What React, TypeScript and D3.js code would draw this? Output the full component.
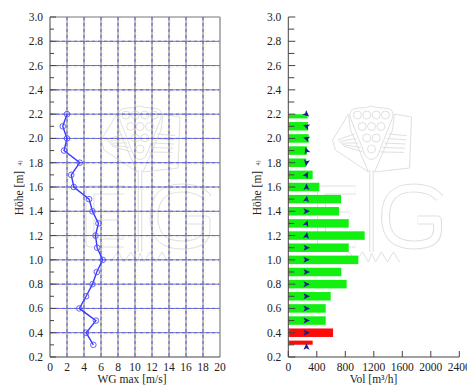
import React from "react";
import * as d3 from "d3";

const heights = [2.2, 2.1, 2.0, 1.9, 1.8, 1.7, 1.6, 1.5, 1.4, 1.3, 1.2, 1.1, 1.0, 0.9, 0.8, 0.7, 0.6, 0.5, 0.4, 0.3];
const wgMax = [2.0, 1.5, 2.0, 1.65, 3.5, 2.5, 2.8, 4.6, 5.0, 5.7, 5.35, 5.55, 6.2, 5.5, 5.0, 4.25, 3.45, 5.4, 4.25, 5.1];
const vol = [272, 277, 286, 262, 253, 342, 436, 740, 712, 848, 1072, 848, 983, 744, 819, 595, 525, 525, 628, 342];
const volAlarm = [false, false, false, false, false, false, false, false, false, false, false, false, false, false, false, false, false, false, true, true];
const arrowDir = [40, 200, 200, 250, 100, -60, -90, -80, 0, -70, -80, 0, 0, 0, 0, 0, 0, 0, 0, -90];
const arrowPos = 255;
const yTicks = [0.2, 0.4, 0.6, 0.8, 1.0, 1.2, 1.4, 1.6, 1.8, 2.0, 2.2, 2.4, 2.6, 2.8, 3.0];
const yMinor = [0.3, 0.5, 0.7, 0.9, 1.1, 1.3, 1.5, 1.7, 1.9, 2.1, 2.3, 2.5, 2.7, 2.9];
const xTicksWG = [0, 2, 4, 6, 8, 10, 12, 14, 16, 18, 20];
const xTicksVol = [0, 400, 800, 1200, 1600, 2000, 2400];

const FONT = "Liberation Serif, Times New Roman, DejaVu Serif, serif";

const y = d3.scaleLinear().domain([0.2, 3.0]).range([357, 17]);
const x1 = d3.scaleLinear().domain([0, 20]).range([50, 220]);
const x2 = d3.scaleLinear().domain([0, 2400]).range([288.3, 459.3]);

function Logo({ cx }: { cx: number }) {
  const g = "#e0e0e0";
  const outline = (d: string, w: number, key: string) => (
    <g key={key}>
      <path d={d} fill="none" stroke={g} strokeWidth={w} strokeLinejoin="round" strokeLinecap="butt" />
      <path d={d} fill="none" stroke="#fff" strokeWidth={w - 2.2} strokeLinejoin="round" strokeLinecap="butt" />
    </g>
  );
  const grapes: [number, number][] = [
    [-14, 115], [-4.7, 115], [4.7, 115], [14, 115],
    [-9.4, 126.5], [0, 126.5], [9.4, 126.5],
    [-4.7, 138], [4.7, 138],
    [0, 149],
  ];
  const stripesL = [0, 1, 2, 3, 4].map((i) => {
    const t = 0.2 + i * 0.15;
    return `M${cx - 36 + t * 10},${138 + t * 10} L${cx - 20 + t * 14},${128 + t * 30}`;
  });
  const stripesR = [0, 1, 2, 3, 4].map((i) => {
    const t = 0.2 + i * 0.15;
    return `M${cx + 36 - t * 4},${130 + t * 28} L${cx + 20 - t * 14},${128 + t * 30}`;
  });
  return (
    <g>
      <path
        d={`M${cx},106 Q${cx + 4},108 ${cx + 12},108 Q${cx + 24},108 ${cx + 21},118 L${cx + 6},156 Q${cx},163 ${cx - 6},156 L${cx - 21},118 Q${cx - 24},108 ${cx - 12},108 Q${cx - 4},108 ${cx},106 Z`}
        fill="none" stroke={g} strokeWidth={1}
      />
      {grapes.map(([dx, yy], i) => (
        <circle key={i} cx={cx + dx} cy={yy} r={4} fill="none" stroke={g} strokeWidth={1} />
      ))}
      <path d={`M${cx - 23},114 L${cx - 39},140 L${cx - 36},150 L${cx - 3},172 L${cx - 21},130 Z`} fill="none" stroke={g} strokeWidth={1} />
      <path d={`M${cx + 23},114 L${cx + 40},117 L${cx + 38},168 L${cx + 3},172 L${cx + 21},130 Z`} fill="none" stroke={g} strokeWidth={1} />
      {stripesL.map((d, i) => <path key={"l" + i} d={d} stroke={g} strokeWidth={1} fill="none" />)}
      {stripesR.map((d, i) => <path key={"r" + i} d={d} stroke={g} strokeWidth={1} fill="none" />)}
      {outline(`M${cx},170 L${cx},252`, 4.5, "stem")}
      {outline(
        `M${cx + 68},198 Q${cx + 60},188 ${cx + 42},188 Q${cx + 14},188 ${cx + 14},217 Q${cx + 14},245 ${cx + 42},245 Q${cx + 66},245 ${cx + 66},230 L${cx + 66},220 L${cx + 46},220`,
        9, "G")}
      {outline(
        `M${cx - 16},190 L${cx - 50},190 L${cx - 50},243 L${cx - 16},243 M${cx - 50},216 L${cx - 22},216`,
        9, "E")}
      <path
        d={`M${cx - 30},262 L${cx - 22},252 L${cx - 16},262 L${cx - 9},252 L${cx - 3},262 L${cx},253 L${cx + 4},262 L${cx + 10},252 L${cx + 16},262 L${cx + 22},252 L${cx + 28},262`}
        fill="none" stroke={g} strokeWidth={1}
      />
    </g>
  );
}

export default function App() {
  const line = d3
    .line<number>()
    .x((d) => x1(d))
    .y((_, i) => y(heights[i]));
  const barH = Math.abs(y(0.07) - y(0));
  const ax = "#444";
  const tf = { fontFamily: FONT };
  return (
    <svg width={467} height={385} style={{ position: "absolute", left: 0, top: 0, background: "#fff" }}>
      <defs>
        <clipPath id="barclip" clipPathUnits="userSpaceOnUse">
          <rect x={x2(0)} y={y(2.2)} width={x2(2400) - x2(0)} height={y(0.3) - y(2.2)} />
        </clipPath>
      </defs>
      <rect width={467} height={385} fill="#fff" />
      <Logo cx={140} />
      <Logo cx={371.5} />

      {/* ===== Left chart ===== */}
      <g>
        {xTicksWG.slice(1, -1).map((t) => (
          <line key={"yx" + t} x1={x1(t) + 2} x2={x1(t) + 2} y1={y(3.0)} y2={y(0.2)} stroke="#f2f0c8" strokeWidth={1} strokeDasharray="1,2" />
        ))}
        {yTicks.slice(1, -1).map((t) => (
          <line key={"yy" + t} x1={x1(0)} x2={x1(20)} y1={y(t) + 2} y2={y(t) + 2} stroke="#f2f0c8" strokeWidth={1} strokeDasharray="1,2" />
        ))}
        {xTicksWG.slice(1, -1).map((t) => (
          <line key={"gx" + t} x1={x1(t)} x2={x1(t)} y1={y(3.0)} y2={y(0.2)} stroke="#7a7a7a" strokeWidth={1} />
        ))}
        {yTicks.slice(1, -1).map((t) => (
          <line key={"gy" + t} x1={x1(0)} x2={x1(20)} y1={y(t)} y2={y(t)} stroke="#7a7a7a" strokeWidth={1} />
        ))}
        {xTicksWG.slice(1, -1).map((t) => (
          <line key={"bx" + t} x1={x1(t)} x2={x1(t)} y1={y(3.0)} y2={y(0.2)} stroke="#5c5cff" strokeWidth={1} strokeDasharray="3,3" />
        ))}
        {yTicks.slice(1, -1).map((t) => (
          <line key={"by" + t} x1={x1(0)} x2={x1(20)} y1={y(t)} y2={y(t)} stroke="#5c5cff" strokeWidth={1} strokeDasharray="3,3" />
        ))}
        <line x1={x1(0)} x2={x1(20)} y1={y(3.0)} y2={y(3.0)} stroke="#777" strokeWidth={1} />
        <line x1={x1(20)} x2={x1(20)} y1={y(3.0)} y2={y(0.2)} stroke="#999" strokeWidth={1.5} />
        <line x1={x1(0)} x2={x1(0)} y1={y(3.0)} y2={y(0.2)} stroke={ax} strokeWidth={1} />
        <line x1={x1(0)} x2={x1(20)} y1={y(0.2)} y2={y(0.2)} stroke={ax} strokeWidth={1} />
        {yTicks.map((t) => (
          <g key={"lt" + t}>
            <line x1={x1(0)} x2={x1(0) + 6} y1={y(t)} y2={y(t)} stroke={ax} />
            <text x={x1(0) - 7} y={y(t) + 4} fontSize={11.5} textAnchor="end" fill="#222" style={tf}>{t.toFixed(1)}</text>
          </g>
        ))}
        {yMinor.map((t) => (
          <line key={"lm" + t} x1={x1(0)} x2={x1(0) + 4} y1={y(t)} y2={y(t)} stroke={ax} />
        ))}
        {xTicksWG.map((t) => (
          <text key={"xl" + t} x={x1(t)} y={371} fontSize={11.5} textAnchor="middle" fill="#222" style={tf}>{t}</text>
        ))}
        <text x={132} y={383} fontSize={11.5} textAnchor="middle" fill="#222" style={tf}>WG max [m/s]</text>
        <text transform="translate(23,193) rotate(-90)" fontSize={11.5} textAnchor="middle" fill="#222" style={tf}>Höhe [m]</text>
        <text transform="translate(22,163) rotate(-90)" fontSize={6} textAnchor="middle" fill="#444" style={tf}>4)</text>
        <path d={line(wgMax) || ""} fill="none" stroke="#3a3aff" strokeWidth={1.4} />
        {wgMax.map((v, i) => (
          <circle key={"c" + i} cx={x1(v)} cy={y(heights[i])} r={2.8} fill="none" stroke="#5050ff" strokeWidth={0.9} />
        ))}
      </g>

      {/* ===== Right chart ===== */}
      <g>
        <g clipPath="url(#barclip)">
          {vol.map((v, i) => (
            <rect key={"b" + i} x={x2(0)} y={y(heights[i]) - barH / 2} width={x2(v) - x2(0)} height={barH}
              fill={volAlarm[i] ? "#ff0a0a" : "#12f012"} />
          ))}
          {vol.map((v, i) => (
            <line key={"re" + i} x1={x2(0) + 0.5} x2={x2(0) + 0.5} y1={y(heights[i]) - barH / 2} y2={y(heights[i]) + barH / 2} stroke="#e55" strokeWidth={1} />
          ))}
        </g>
        <line x1={x2(0)} x2={x2(0)} y1={y(3.0)} y2={y(0.2)} stroke={ax} strokeWidth={1} />
        <line x1={x2(0)} x2={x2(2400)} y1={y(0.2)} y2={y(0.2)} stroke={ax} strokeWidth={1} />
        {yTicks.map((t) => (
          <g key={"rt" + t}>
            <line x1={x2(0)} x2={x2(0) + 7} y1={y(t)} y2={y(t)} stroke={ax} />
            <text x={x2(0) - 7} y={y(t) + 4} fontSize={11.5} textAnchor="end" fill="#222" style={tf}>{t.toFixed(1)}</text>
          </g>
        ))}
        {yMinor.map((t) => (
          <line key={"rm" + t} x1={x2(0)} x2={x2(0) + 6} y1={y(t)} y2={y(t)} stroke={ax} />
        ))}
        {xTicksVol.map((t) => (
          <g key={"vx" + t}>
            <line x1={x2(t)} x2={x2(t)} y1={y(0.2)} y2={y(0.2) - 6} stroke={ax} />
            <text x={x2(t)} y={371} fontSize={11.5} textAnchor="middle" fill="#222" style={tf}>{t}</text>
          </g>
        ))}
        {heights.map((h, i) => (
          <path key={"a" + i} d="M3.5,0 L-3,-3 L-1.5,0 L-3,3 Z" fill="#1a1a90"
            transform={`translate(${x2(arrowPos)},${y(h) + (i === heights.length - 1 ? 2 : 0)}) rotate(${arrowDir[i]})`} />
        ))}
        <text x={373.5} y={383} fontSize={11.5} textAnchor="middle" fill="#222" style={tf}>Vol [m³/h]</text>
        <text transform="translate(261,193) rotate(-90)" fontSize={11.5} textAnchor="middle" fill="#222" style={tf}>Höhe [m]</text>
        <text transform="translate(260,163) rotate(-90)" fontSize={6} textAnchor="middle" fill="#444" style={tf}>4)</text>
      </g>
    </svg>
  );
}
